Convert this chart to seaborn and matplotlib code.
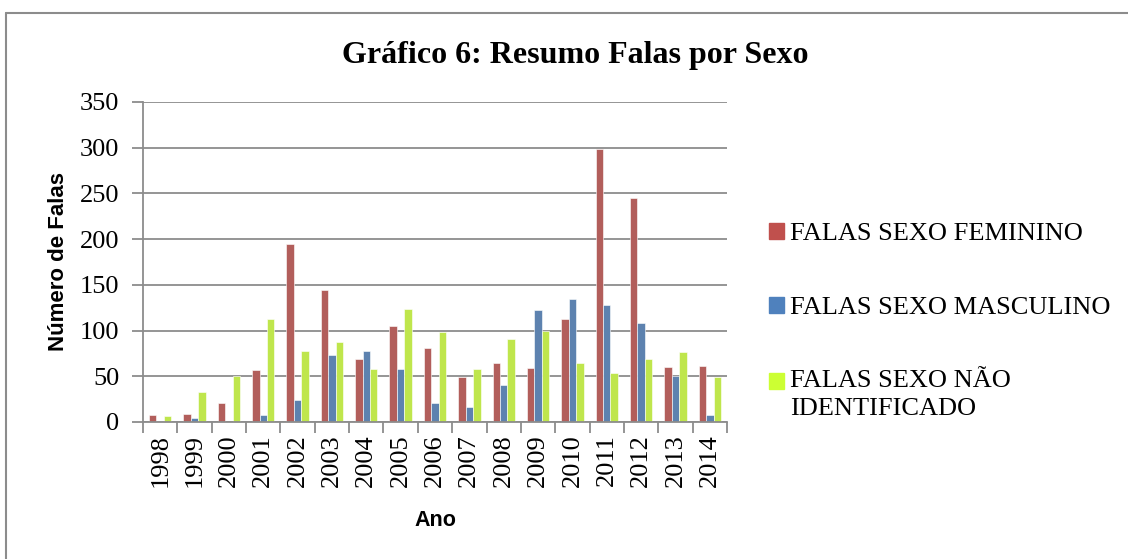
import pandas as pd
import matplotlib.pyplot as plt
import matplotlib.patches as mpatches
from matplotlib.lines import Line2D
import seaborn as sns

# ==========================================
# DATA
# ==========================================
anos = ['1998', '1999', '2000', '2001', '2002', '2003', '2004', '2005', '2006',
        '2007', '2008', '2009', '2010', '2011', '2012', '2013', '2014']
feminino = [8, 9, 21, 57, 195, 144, 69, 105, 81, 49, 64, 59, 113, 299, 245, 60, 61]
masculino = [1, 4, 0, 8, 24, 73, 78, 58, 21, 16, 40, 123, 134, 128, 108, 50, 8]
nao_ident = [7, 33, 50, 113, 78, 88, 58, 124, 98, 58, 91, 99, 65, 54, 69, 76, 49]
series = ['FALAS SEXO FEMININO', 'FALAS SEXO MASCULINO', 'FALAS SEXO NÃO\nIDENTIFICADO']
cores = ['#C0504D', '#4F81BD', '#CCFF33']

df = pd.DataFrame({'Ano': anos, series[0]: feminino, series[1]: masculino, series[2]: nao_ident})
df_long = df.melt(id_vars='Ano', var_name='Serie', value_name='Falas')

# ==========================================
# PLOT
# ==========================================
sns.set_theme(style='white')
plt.rcParams['font.family'] = ['Liberation Serif', 'DejaVu Serif']
plt.rcParams['text.color'] = 'black'
plt.rcParams['axes.labelcolor'] = 'black'

fig = plt.figure(figsize=(11.28, 5.59), dpi=100)
ax = fig.add_axes([0.1268, 0.2451, 0.5177, 0.5725])

sns.barplot(data=df_long, x='Ano', y='Falas', hue='Serie', palette=cores,
            width=0.65, edgecolor='white', linewidth=0.4, ax=ax, legend=False)

ax.set_ylim(0, 350)
ax.set_xlim(-0.5, len(anos) - 0.5)
ax.set_yticks(range(0, 351, 50))
ax.yaxis.grid(True, color='#8c8c8c', linewidth=1.3)
ax.set_axisbelow(True)
for s in ['top', 'right']:
    ax.spines[s].set_visible(False)
for s in ['left', 'bottom']:
    ax.spines[s].set_color('#8c8c8c')
    ax.spines[s].set_linewidth(1.3)

ax.tick_params(axis='y', which='major', left=True, length=8, width=1.3,
               color='#8c8c8c', labelcolor='black', labelsize=19, pad=9)
ax.tick_params(axis='x', which='major', length=0, labelsize=19, labelcolor='black',
               pad=9, labelrotation=90)
ax.set_xticks([i - 0.5 for i in range(len(anos) + 1)], minor=True)
ax.tick_params(axis='x', which='minor', bottom=True, length=8, width=1.3, color='#8c8c8c')

ax.set_xlabel('Ano', fontsize=15.5, fontweight='bold', family='Liberation Sans', labelpad=16)
ax.set_ylabel('Número de Falas', fontsize=16, fontweight='bold', family='Liberation Sans', labelpad=8)

fig.text(0.51, 0.900, 'Gráfico 6: Resumo Falas por Sexo', ha='center', va='center',
         fontsize=23, fontweight='bold')

handles = [mpatches.Patch(color=c, label=l) for c, l in zip(cores, series)]
leg = fig.legend(handles=handles, loc='upper left', bbox_to_anchor=(0.6725, 0.620),
                 frameon=False, fontsize=19, handlelength=0.55, handleheight=0.55,
                 handletextpad=0.25, labelspacing=1.95, borderaxespad=0)
for t in leg.get_texts():
    t.set_linespacing(1.35)
# two-line entry: square sits beside the first line, as in the original
sq = leg.legend_handles[2]
sq.set_y(sq.get_y() + 10)

# outer chart border (only top and left edges are inside the picture)
fig.add_artist(Line2D([6 / 1128, 1], [1 - 13 / 559, 1 - 13 / 559], transform=fig.transFigure,
                      color='#8c8c8c', linewidth=1.5))
fig.add_artist(Line2D([6 / 1128, 6 / 1128], [0, 1 - 13 / 559], transform=fig.transFigure,
                      color='#8c8c8c', linewidth=1.5))

fig.savefig('out.png', dpi=100)
